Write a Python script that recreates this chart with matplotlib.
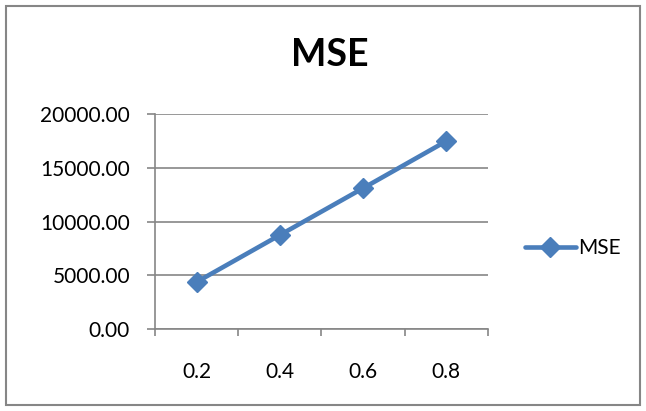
import matplotlib.pyplot as plt
from matplotlib.patches import Rectangle
import numpy as np

plt.rcParams['font.family'] = ['Lato', 'DejaVu Sans']

# data
categories = ['0.2', '0.4', '0.6', '0.8']
mse = [4370, 8740, 13100, 17480]
yticks = [0, 5000, 10000, 15000, 20000]

line_color = '#4A7EBB'
grid_color = '#868686'

fig = plt.figure(figsize=(6.46, 4.11), dpi=100)
ax = fig.add_axes([0.2399, 0.1995, 0.5155, 0.5231])

x = np.arange(len(categories))
ax.plot(x, mse, color=line_color, lw=3.3, marker='D', markersize=10.5,
        label='MSE', solid_capstyle='round')

ax.set_xlim(-0.5, len(categories) - 0.5)
ax.set_ylim(0, 20000)

ax.set_yticks(yticks)
ax.set_yticklabels([f'{v:.2f}' for v in yticks])
ax.set_xticks(x)
ax.set_xticklabels(categories)
ax.set_xticks(np.arange(-0.5, len(categories)), minor=True)

ax.tick_params(axis='x', which='major', length=0, pad=24, labelsize=15)
ax.tick_params(axis='x', which='minor', length=5, width=1.2, color=grid_color)
ax.tick_params(axis='y', length=6, width=1.2, color=grid_color, pad=12, labelsize=15)

ax.grid(axis='y', color=grid_color, lw=1.2)
ax.set_axisbelow(True)
for side in ['top', 'right']:
    ax.spines[side].set_visible(False)
for side in ['left', 'bottom']:
    ax.spines[side].set_color(grid_color)
    ax.spines[side].set_linewidth(1.2)

fig.text(0.511, 0.867, 'MSE', ha='center', va='center', fontsize=27, fontweight='bold')

leg = ax.legend(loc='center left', bbox_to_anchor=(1.11, 0.377), frameon=False,
                fontsize=15, handlelength=2.45, handletextpad=0.1,
                borderaxespad=0, borderpad=0)

# outer chart border
fig.patches.append(Rectangle((6 / 646, 6 / 411), 634 / 646, 399 / 411,
                             transform=fig.transFigure, fill=False,
                             edgecolor=grid_color, lw=1.5))

fig.savefig('out.png', dpi=100)
